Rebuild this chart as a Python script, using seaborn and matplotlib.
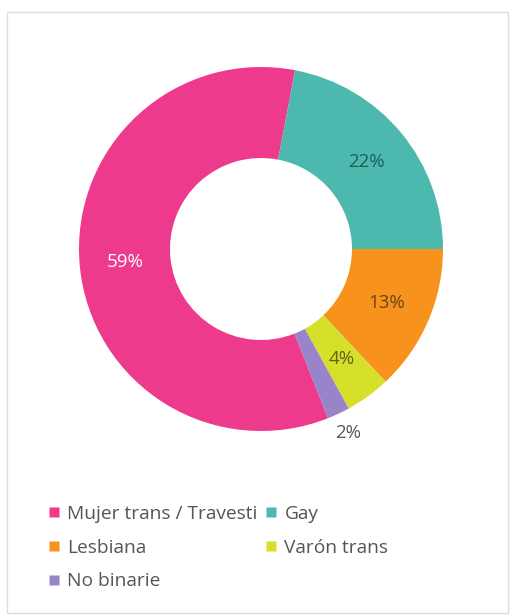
import numpy as np
import matplotlib.pyplot as plt
import seaborn as sns
from matplotlib.lines import Line2D
from matplotlib.patches import Rectangle

categories = ["Mujer trans / Travesti", "Gay", "Lesbiana", "Varón trans", "No binarie"]
shares = [59, 22, 13, 4, 2]
colors = ["#EE3A8C", "#4DB8AE", "#F7931D", "#D6E02A", "#9884C9"]
label_colors = ["#FFFFFF", "#1E5E59", "#6B4416", "#5E6215", "#555555"]

sns.set_theme(style="white")
plt.rcParams["font.family"] = ["Open Sans", "DejaVu Sans"]

W, H = 511, 616
fig = plt.figure(figsize=(W / 100, H / 100), dpi=100)

# light panel border
fig.patches.append(Rectangle((7 / W, 1 - 613 / H), 501 / W, 601 / H,
                             transform=fig.transFigure, fill=False,
                             edgecolor="#DDDDDD", linewidth=1.0))

# donut: centre (261, 249) px, outer radius 182 px
cx, cy, r_px, half = 261, 249, 182, 220
ax = fig.add_axes([(cx - half) / W, 1 - (cy + half) / H, 2 * half / W, 2 * half / H])

start = 360 * (shares[0] + shares[1]) / sum(shares)
wedges, texts, autotexts = ax.pie(
    shares, colors=colors, startangle=start, counterclock=False,
    radius=1.0, wedgeprops=dict(width=0.5, edgecolor="none"),
    autopct="%.0f%%", pctdistance=0.75,
    textprops=dict(fontsize=13.5))

for t, c in zip(autotexts, label_colors):
    t.set_color(c)

# smallest slice label sits outside the ring
w = wedges[-1]
mid = np.deg2rad((w.theta1 + w.theta2) / 2)
autotexts[-1].set_position((1.12 * np.cos(mid), 1.12 * np.sin(mid)))

lim = half / r_px
ax.set_xlim(-lim, lim)
ax.set_ylim(-lim, lim)
ax.set_aspect("equal")
ax.axis("off")

# legend laid out row by row: two columns
handles = [Line2D([], [], marker="s", linestyle="none", markersize=7,
                  markerfacecolor=c, markeredgecolor="none") for c in colors]
order = [0, 2, 4, 1, 3]
fig.legend([handles[i] for i in order], [categories[i] for i in order],
           ncol=2, loc="upper left", bbox_to_anchor=(49 / W, 1 - 505 / H),
           frameon=False, fontsize=13.8, labelcolor="#555555",
           handlelength=0.55, handletextpad=0.4, columnspacing=0.45,
           labelspacing=0.82, borderpad=0, borderaxespad=0)

plt.savefig("out.png", dpi=100)
